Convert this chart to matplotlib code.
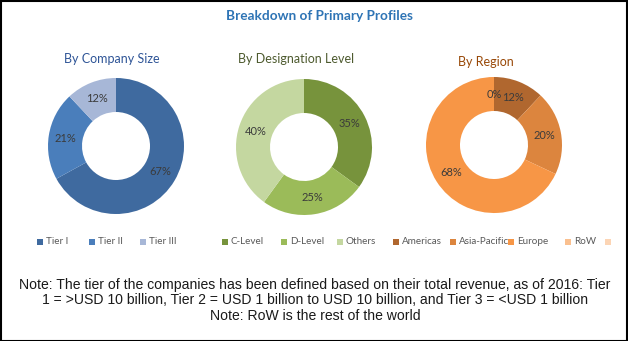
import matplotlib
matplotlib.use("Agg")
import matplotlib.pyplot as plt
from matplotlib.patches import Rectangle

# data
size_labels = ["Tier I", "Tier II", "Tier III"]
size_values = [67, 21, 12]
desig_labels = ["C-Level", "D-Level", "Others"]
desig_values = [35, 25, 40]
region_labels = ["Americas", "Asia-Pacific", "Europe", "RoW"]
region_values = [12, 20, 68, 0]

size_colors = ["#3f6a9f", "#4a7ebb", "#a7b7d7"]
desig_colors = ["#77933c", "#9bbb59", "#c4d7a0"]
region_colors = ["#b0672f", "#dc853e", "#f79646", "#fac08f"]

W, H = 628, 341
fig = plt.figure(figsize=(W / 100, H / 100), dpi=100)
fig.patch.set_facecolor("white")


def px_axes(cx, cy, r):
    # pixel centre (from top-left) -> axes of size 2r
    return fig.add_axes([(cx - r) / W, (H - cy - r) / H, 2 * r / W, 2 * r / H])


def donut(cx, cy, r, values, colors):
    ax = px_axes(cx, cy, r)
    wedges, texts, autotexts = ax.pie(
        values, colors=colors, startangle=90, counterclock=False,
        autopct="%.0f%%", pctdistance=0.75, radius=1,
        wedgeprops=dict(width=0.5, linewidth=0),
        textprops=dict(fontsize=8, color="#3b3b3b", family="Lato"))
    ax.set_xlim(-1, 1)
    ax.set_ylim(-1, 1)
    ax.set_aspect("equal")
    ax.axis("off")
    return ax


donut(116, 146, 68, size_values, size_colors)
donut(304, 147, 68, desig_values, desig_colors)
donut(494, 145, 68, region_values, region_colors)

fig.text(319 / W, 1 - 16 / H, "Breakdown of Primary Profiles", ha="center", va="center",
         fontsize=9.8, fontweight="bold", color="#2e74b5", family="Lato")
fig.text(112 / W, 1 - 59 / H, "By Company Size", ha="center", va="center",
         fontsize=9, color="#2f5597", family="Lato")
fig.text(296 / W, 1 - 59 / H, "By Designation Level", ha="center", va="center",
         fontsize=9, color="#4d5a2e", family="Lato")
fig.text(486 / W, 1 - 62 / H, "By Region", ha="center", va="center",
         fontsize=9, color="#984807", family="Lato")

# legend row
leg_x = [40, 92, 143, 225, 284, 340, 396, 453, 511, 568, 608]
leg_labels = size_labels + desig_labels + region_labels + [""]
leg_colors = size_colors + desig_colors + region_colors + ["#fcd5b5"]
leg_y = 242
for x, lab, c in zip(leg_x, leg_labels, leg_colors):
    fig.add_artist(Rectangle(((x - 3) / W, (H - leg_y - 3) / H), 6 / W, 6 / H,
                             transform=fig.transFigure, facecolor=c, edgecolor="none"))
    fig.text((x + 6) / W, 1 - leg_y / H, lab, ha="left", va="center",
             fontsize=7.1, color="#595959", family="Lato")

note_font = "Liberation Sans"
notes = [
    "Note: The tier of the companies has been defined based on their total revenue, as of 2016: Tier",
    "1 = >USD 10 billion, Tier 2 = USD 1 billion to USD 10 billion, and Tier 3 = <USD 1 billion",
    "Note: RoW is the rest of the world",
]
for y, line in zip([285, 300, 316], notes):
    fig.text(315 / W, 1 - y / H, line, ha="center", va="center",
             fontsize=10.1, color="#1a1a1a", family=note_font)

# outer frame
fig.add_artist(Rectangle((0.5 / W, 0.5 / H), (W - 1.5) / W, (H - 1.5) / H,
                         transform=fig.transFigure, fill=False, edgecolor="black", linewidth=1.5))

fig.savefig("out.png", dpi=100)
